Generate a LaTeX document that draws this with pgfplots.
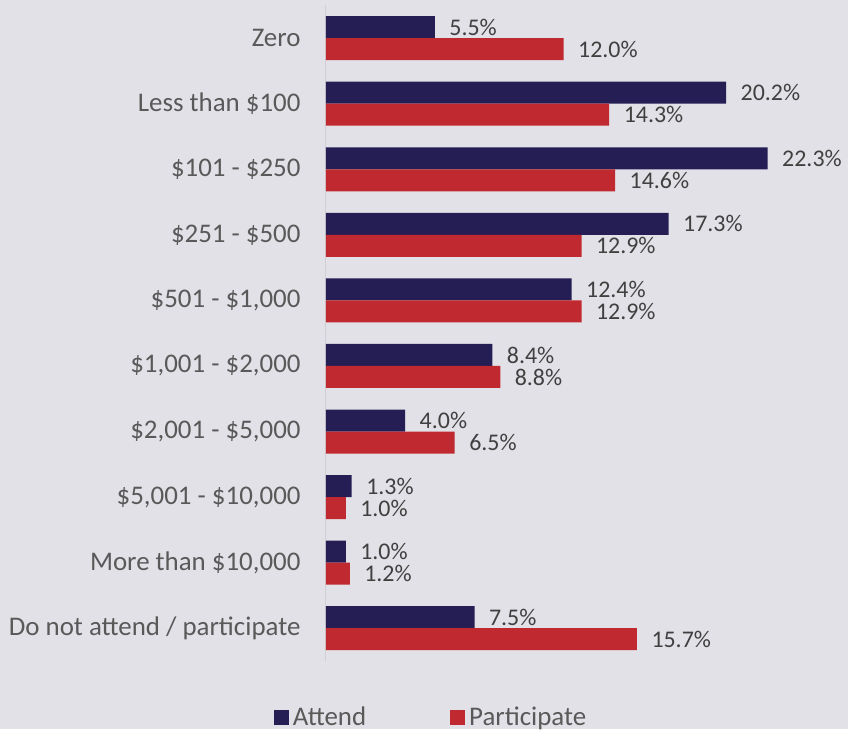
\documentclass[border=0pt]{standalone}
\usepackage{fontspec}
\setmainfont{Carlito}
\usepackage{pgfplots}
\pgfplotsset{compat=1.18}
\definecolor{bg}{HTML}{E2E1E7}
\definecolor{navy}{HTML}{251E55}
\definecolor{redc}{HTML}{C0292F}
\definecolor{txt}{HTML}{404040}
\definecolor{txtl}{HTML}{595959}
\definecolor{axl}{HTML}{D0CFD6}
\begin{document}
\begin{tikzpicture}
\fill[bg] (-326bp,-68bp) rectangle (522bp,661bp);
\begin{axis}[
  scale only axis,
  width=515bp, height=655.6bp,
  xbar, y dir=reverse,
  xmin=0, xmax=26,
  ymin=-0.5, ymax=9.5,
  bar width=22bp,
  hide x axis,
  axis y line*=left,
  y axis line style={draw=axl, line width=1pt},
  ytick={0,...,9},
  yticklabels={Zero,Less than \$100,\$101 - \$250,\$251 - \$500,\$501 - \$1{,}000,\$1{,}001 - \$2{,}000,\$2{,}001 - \$5{,}000,\$5{,}001 - \$10{,}000,More than \$10{,}000,Do not attend / participate},
  major tick length=0pt,
  y tick label style={font=\fontsize{27}{30}\selectfont, text=txtl, xshift=-22bp},
  /pgf/number format/assume math mode=true,
  nodes near coords={\pgfmathprintnumber[fixed,fixed zerofill,precision=1,assume math mode=true]{\pgfplotspointmeta}\%},
  nodes near coords style={font=\fontsize{24}{26}\selectfont, text=txt, anchor=west, xshift=11bp},
  point meta=explicit,
  legend style={draw=none, fill=none, at={(0.206,-0.0855)}, anchor=center,
    legend columns=2, font=\fontsize{27}{30}\selectfont, text=txtl,
    nodes={inner xsep=4bp},
    /tikz/every even column/.append style={column sep=80bp}},
  legend image code/.code={\fill[#1] (0bp,-7.5bp) rectangle (15bp,7.5bp);},
]
\addplot[fill=navy, draw=none, bar shift=11bp] coordinates {
(5.5,0) [5.5] (20.2,1) [20.2] (22.3,2) [22.3] (17.3,3) [17.3] (12.4,4) [12.4]
(8.4,5) [8.4] (4.0,6) [4.0] (1.3,7) [1.3] (1.0,8) [1.0] (7.5,9) [7.5]};
\addplot[fill=redc, draw=none, bar shift=-11bp] coordinates {
(12.0,0) [12.0] (14.3,1) [14.3] (14.6,2) [14.6] (12.9,3) [12.9] (12.9,4) [12.9]
(8.8,5) [8.8] (6.5,6) [6.5] (1.0,7) [1.0] (1.2,8) [1.2] (15.7,9) [15.7]};
\legend{Attend,Participate}
\end{axis}
\end{tikzpicture}
\end{document}
